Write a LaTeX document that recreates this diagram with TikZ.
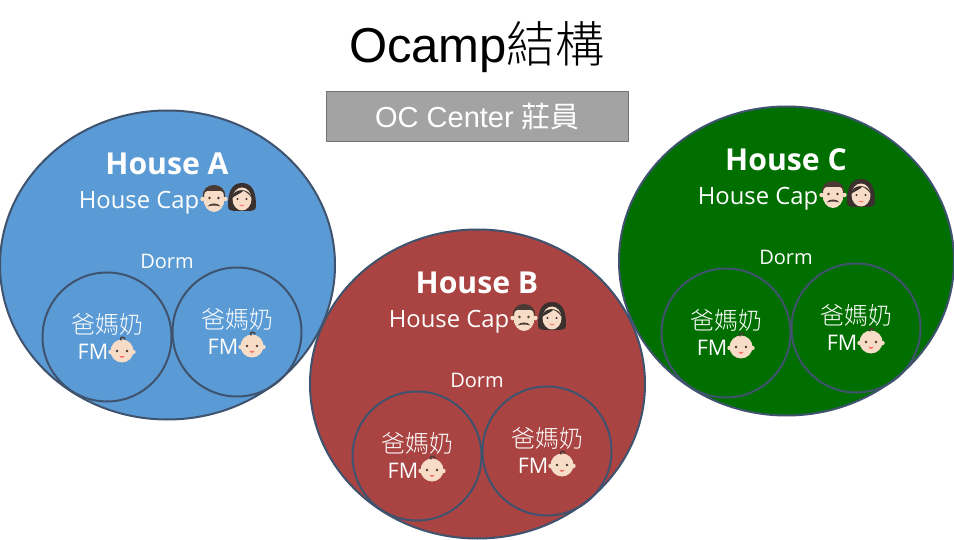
\documentclass[tikz,border=0pt]{standalone}
\usepackage{fontspec}
\usetikzlibrary{shapes.geometric}
\setmainfont{Open Sans}
\newfontfamily\cjk{Noto Sans CJK TC}
\newfontfamily\cjklight{Noto Sans CJK TC Light}
\newfontfamily\hel{Liberation Sans}
\definecolor{edgeC}{HTML}{3F526E}
\definecolor{houseA}{HTML}{5B9BD5}
\definecolor{houseB}{HTML}{A94442}
\definecolor{houseC}{HTML}{006F00}
\definecolor{skin}{HTML}{F7DCC8}
\definecolor{hairM}{HTML}{4A3A33}
\definecolor{hairW}{HTML}{3A302E}
\tikzset{
  x=1pt,y=-1pt,
  house/.style={draw=edgeC,line width=2pt},
  fm/.style={circle,draw=edgeC,line width=2pt,minimum size=129pt,inner sep=0pt},
  lab/.style={text=white,inner sep=0pt,anchor=center},
  pics/man/.style={code={
    \fill[skin] (-11.5,2) circle[radius=2.2] (11.5,2) circle[radius=2.2];
    \fill[skin] (0,2) ellipse[x radius=10.5,y radius=13];
    \fill[hairM] (-11,0) .. controls (-13,-16) and (13,-16) .. (11,0) -- (10,0) .. controls (10,-4) and (9,-6) .. (7,-6) -- (-7,-6) .. controls (-9,-6) and (-10,-4) .. (-10,0) -- cycle;
    \fill[hairM] (-4.5,1) circle[radius=1.3] (4.5,1) circle[radius=1.3];
    \fill[hairM] (-6.5,9.5) .. controls (-4,5.5) and (4,5.5) .. (6.5,9.5) .. controls (3,8.2) and (-3,8.2) .. (-6.5,9.5) -- cycle;
  }},
  pics/woman/.style={code={
    \fill[hairW] (0,-14) .. controls (-11,-14) and (-14,-4) .. (-14,9) .. controls (-14,13) and (-11,14) .. (-8,14) -- (8,14) .. controls (11,14) and (14,13) .. (14,9) .. controls (14,-4) and (11,-14) .. (0,-14) -- cycle;
    \fill[skin] (0,2) ellipse[x radius=9.5,y radius=11.5];
    \fill[hairW] (-10,1) .. controls (-9,-9) and (7,-10) .. (10,1) .. controls (6,-4) and (3,-6) .. (1,-6) .. controls (-2,-3) and (-6,-2) .. (-10,1) -- cycle;
    \fill[hairW] (-4.5,2) circle[radius=1.2] (4.5,2) circle[radius=1.2];
    \fill[red!45!skin] (-3,8) -- (3,8) .. controls (1,10) and (-1,10) .. (-3,8) -- cycle;
  }},
  pics/baby/.style={code={
    \fill[skin] (0,0) circle[radius=11.5];
    \fill[skin] (-11.5,1) circle[radius=2.2] (11.5,1) circle[radius=2.2];
    \draw[hairM,line width=1.4pt,line cap=round] (-1,-11) .. controls (-3,-14) and (2,-15) .. (3,-12);
    \fill[hairM] (-5,0) circle[radius=1.3] (5,0) circle[radius=1.3];
    \fill[red!50!skin] (-2.5,5) .. controls (-1,7.5) and (1,7.5) .. (2.5,5) -- cycle;
  }},
}
\newcommand{\housegroup}[5]{%
  \begin{scope}[shift={(#2,#3)}]
    \node[ellipse,house,fill=#4,minimum width=335pt,minimum height=309pt,inner sep=0pt] (#1h) at (167.5,265) {};
    \node[lab,font=\bfseries\fontsize{30.2}{33}\selectfont] (#1t) at (167,164) {#5};
    \node[lab,font=\fontsize{23.8}{26}\selectfont] (#1c) at (139,203) {House Cap};
    \pic at (214,197) {man};
    \pic at (242,197) {woman};
    \node[lab,font=\fontsize{20}{22}\selectfont] (#1d) at (167,261) {Dorm};
    \node[fm] (#1l) at (107,337) {};
    \node[fm] (#1r) at (237,332) {};
    \node[lab,font=\cjklight\fontsize{24}{26}\selectfont] (#1lp) at (107,324) {爸媽奶};
    \node[lab,font=\cjklight\fontsize{24}{26}\selectfont] (#1rp) at (237,319) {爸媽奶};
    \node[lab,font=\fontsize{21.5}{24}\selectfont] (#1lf) at (93,352) {FM};
    \node[lab,font=\fontsize{21.5}{24}\selectfont] (#1rf) at (223,347) {FM};
    \pic at (122,351) {baby};
    \pic at (252,346) {baby};
  \end{scope}}
\begin{document}
\begin{tikzpicture}
\useasboundingbox (0,0) rectangle (954,540);
\fill[white] (0,0) rectangle (954,540);
\node[inner sep=0pt,font=\hel\fontsize{49}{52}\selectfont] (title) at (477,47) {Ocamp{\cjklight 結構}};
\node[draw=black!55,line width=1pt,fill=black!36,minimum width=302pt,minimum height=50pt,inner sep=0pt,text=white,font=\hel\fontsize{29}{30}\selectfont] (center) at (477.5,117) {\raisebox{-3pt}{OC Center {\cjk 莊員}}};
\housegroup{a}{0}{0}{houseA}{House A}
\housegroup{b}{310}{119}{houseB}{House B}
\housegroup{c}{619}{-4}{houseC}{House C}
\end{tikzpicture}
\end{document}
